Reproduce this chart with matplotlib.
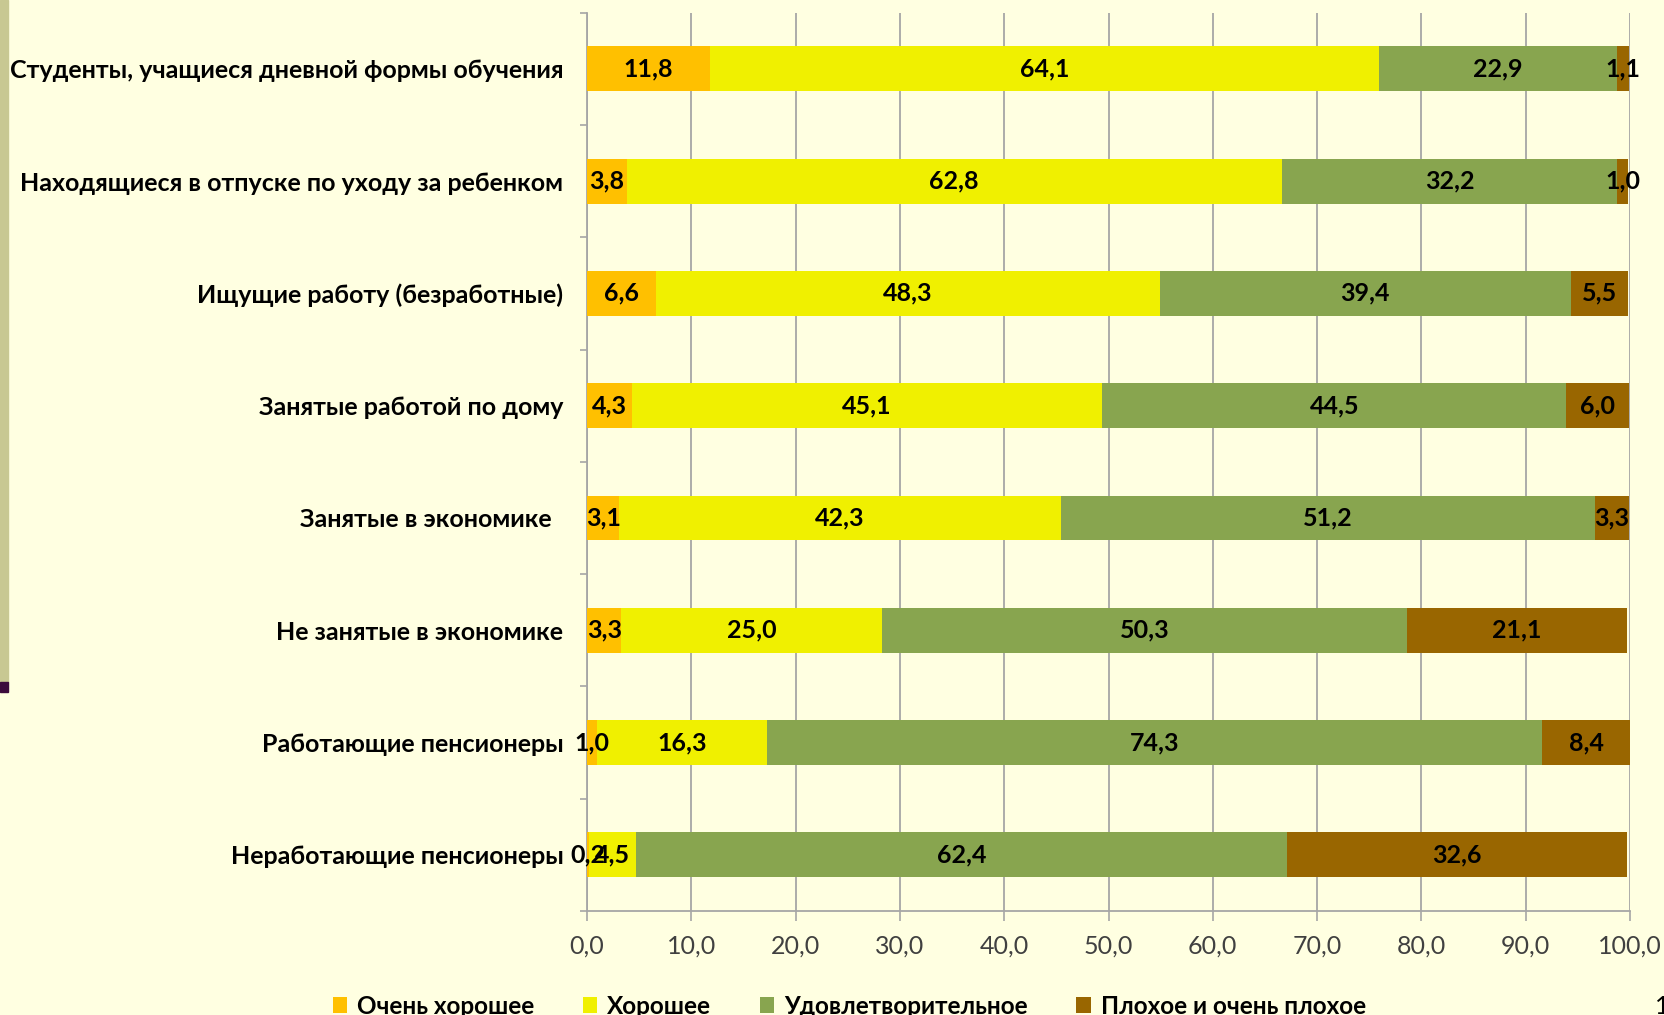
import matplotlib
matplotlib.use("Agg")
import matplotlib.pyplot as plt
from matplotlib.patches import Rectangle
import numpy as np

plt.rcParams['font.family'] = ['Lato', 'DejaVu Sans']

categories = [
    "Студенты, учащиеся дневной формы обучения",
    "Находящиеся в отпуске по уходу за ребенком",
    "Ищущие работу (безработные)",
    "Занятые работой по дому",
    "Занятые в экономике  ",
    "Не занятые в экономике",
    "Работающие пенсионеры",
    "Неработающие пенсионеры",
]
series_names = ["Очень хорошее", "Хорошее", "Удовлетворительное", "Плохое и очень плохое"]
very_good = [11.8, 3.8, 6.6, 4.3, 3.1, 3.3, 1.0, 0.2]
good = [64.1, 62.8, 48.3, 45.1, 42.3, 25.0, 16.3, 4.5]
satisfactory = [22.9, 32.2, 39.4, 44.5, 51.2, 50.3, 74.3, 62.4]
bad = [1.1, 1.0, 5.5, 6.0, 3.3, 21.1, 8.4, 32.6]
xticks = np.arange(0, 101, 10)

colors = ["#FFC000", "#F0F000", "#88A54F", "#996600"]
bg = "#FFFFE1"
axis_gray = "#A6A6A6"

fig = plt.figure(figsize=(16.65, 10.15), dpi=100, facecolor=bg)
ax = fig.add_axes([587 / 1665, 1 - 911 / 1015, (1630 - 587) / 1665, (911 - 12.7) / 1015])
ax.set_facecolor(bg)

# decorative strip on the left edge of the slide
fig.patches.append(Rectangle((0, 1 - 682 / 1015), 8 / 1665, 682 / 1015,
                             transform=fig.transFigure, color="#C8C892", zorder=0))
fig.patches.append(Rectangle((0, 1 - 692 / 1015), 8 / 1665, 10 / 1015,
                             transform=fig.transFigure, color="#3C0A3C", zorder=0))

y = np.arange(len(categories))
left = np.zeros(len(categories))
for name, vals, col in zip(series_names, [very_good, good, satisfactory, bad], colors):
    bars = ax.barh(y, vals, left=left, height=0.4, color=col, label=name, zorder=3)
    ax.bar_label(bars, labels=[f"{v:.1f}".replace('.', ',') for v in vals],
                 label_type='center', fontsize=18, fontweight='bold', color='black', zorder=4)
    left += np.array(vals)

ax.set_xlim(0, 100)
ax.set_ylim(len(categories) - 0.5, -0.5)
ax.set_xticks(xticks)
ax.set_xticklabels([f"{t:.1f}".replace('.', ',') for t in xticks], fontsize=18, color="#404040")
ax.set_yticks(y)
ax.set_yticklabels(categories, fontsize=18, fontweight='bold', color='black')
ax.set_yticks(np.arange(-0.5, len(categories)), minor=True)
ax.tick_params(axis='y', which='major', length=0, pad=17)
ax.tick_params(axis='y', which='minor', length=5, width=1.2, color=axis_gray)
ax.tick_params(axis='x', which='major', length=7, width=1.2, color=axis_gray, pad=10)

ax.grid(axis='x', color=axis_gray, linewidth=1.3, zorder=0)
ax.set_axisbelow(True)
for s in ['top', 'right']:
    ax.spines[s].set_visible(False)
for s in ['left', 'bottom']:
    ax.spines[s].set_color(axis_gray)
    ax.spines[s].set_linewidth(1.3)

fig.legend(loc='center', bbox_to_anchor=(0.51, 1 - 1006 / 1015), ncol=4, frameon=False,
           prop={'size': 17.5, 'weight': 'bold'}, handlelength=0.6, handleheight=0.6,
           handletextpad=0.4, columnspacing=2.0)

fig.text(1655 / 1665, 1 - 1006 / 1015, "1", fontsize=18, va='center', ha='left')

fig.savefig("out.png", dpi=100, facecolor=bg)
